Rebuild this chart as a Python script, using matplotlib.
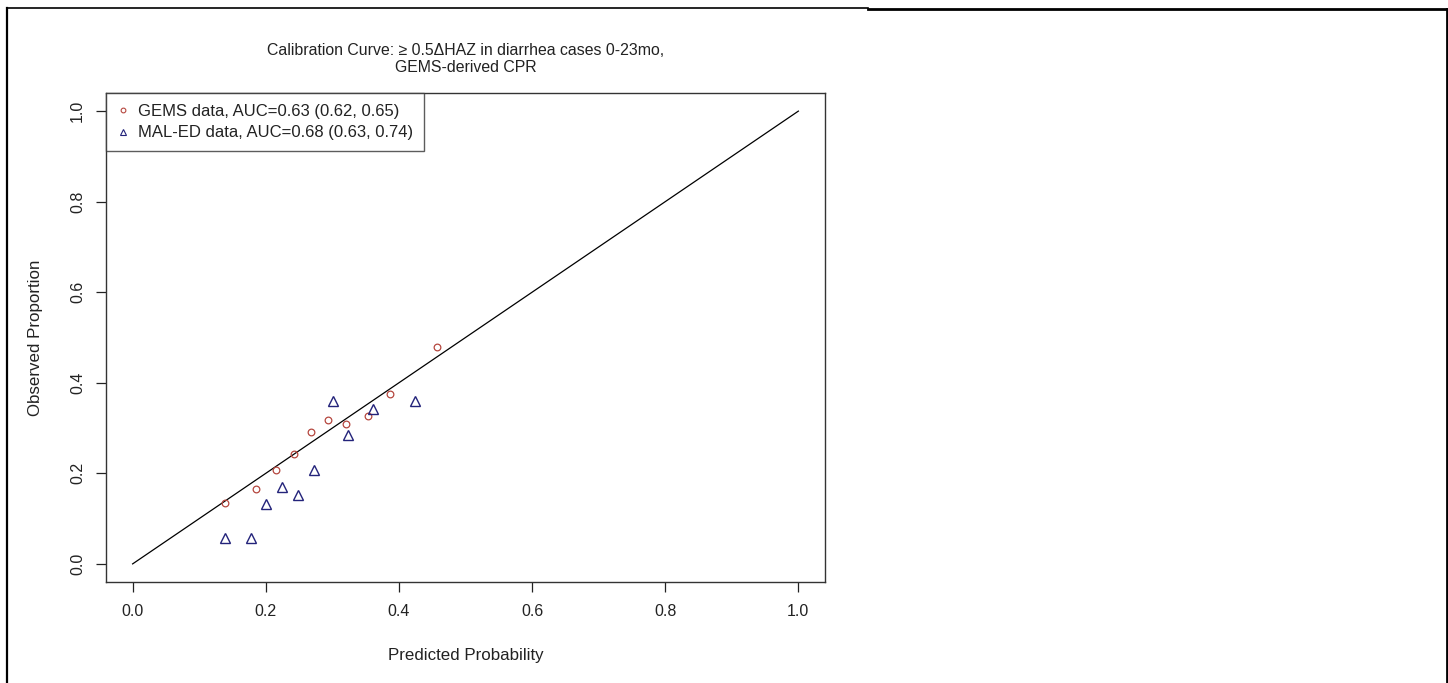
import numpy as np
import matplotlib
matplotlib.use("Agg")
import matplotlib.pyplot as plt
from matplotlib.lines import Line2D

# GEMS calibration points (predicted, observed)
gems_pred = [0.139, 0.186, 0.216, 0.242, 0.268, 0.294, 0.321, 0.353, 0.387, 0.457]
gems_obs = [0.134, 0.165, 0.208, 0.242, 0.292, 0.317, 0.308, 0.326, 0.376, 0.478]

# MAL-ED calibration points (predicted, observed)
maled_pred = [0.138, 0.178, 0.200, 0.224, 0.248, 0.272, 0.301, 0.324, 0.361, 0.424]
maled_obs = [0.058, 0.058, 0.132, 0.169, 0.153, 0.208, 0.360, 0.285, 0.341, 0.360]

ticks = [0.0, 0.2, 0.4, 0.6, 0.8, 1.0]
tick_labels = ["0.0", "0.2", "0.4", "0.6", "0.8", "1.0"]

gems_label = "GEMS data, AUC=0.63 (0.62, 0.65)"
maled_label = "MAL-ED data, AUC=0.68 (0.63, 0.74)"

plt.rcParams["font.family"] = ["Liberation Sans", "DejaVu Sans"]

W, H = 1448, 683
fig = plt.figure(figsize=(W / 100, H / 100), dpi=100)


def fx(px):
    return px / W


def fy(py):
    return 1 - py / H


# plot region in pixel terms
left, right, top, bottom = 106, 825, 93, 582
ax = fig.add_axes([fx(left), fy(bottom), fx(right) - fx(left), fy(top) - fy(bottom)])

ax.plot([0, 1], [0, 1], color="black", lw=0.9)
ax.plot(gems_pred, gems_obs, linestyle="none", marker="o", markersize=4.8,
        markerfacecolor="none", markeredgecolor="#b5473f", markeredgewidth=0.9)
ax.plot(maled_pred, maled_obs, linestyle="none", marker="^", markersize=6.8,
        markerfacecolor="none", markeredgecolor="#23237a", markeredgewidth=1.0)

ax.set_xlim(-0.04, 1.04)
ax.set_ylim(-0.04, 1.04)
ax.set_xticks(ticks)
ax.set_xticklabels(tick_labels)
ax.set_yticks(ticks)
ax.set_yticklabels(tick_labels, rotation=90, va="center")
ax.tick_params(direction="out", length=7.5, width=0.9, labelsize=11.5,
               colors="#222222")
ax.tick_params(axis="x", pad=8.5)
ax.tick_params(axis="y", pad=7.5)
for s in ax.spines.values():
    s.set_linewidth(1.0)
    s.set_color("#333333")

ax.set_xlabel("Predicted Probability", fontsize=12.2, color="#222222")
ax.xaxis.set_label_coords(0.5, (bottom - 648) / (bottom - top))
ax.set_ylabel("Observed Proportion", fontsize=12.2, color="#222222")
ax.yaxis.set_label_coords((43 - left) / (right - left), 0.5)

ax.set_title("Calibration Curve: \u2265 0.5\u0394HAZ in diarrhea cases 0-23mo,\nGEMS-derived CPR",
             fontsize=11.4, color="#222222", linespacing=1.15, pad=15)

# legend
handles = [
    Line2D([], [], linestyle="none", marker="o", markersize=3.4,
           markerfacecolor="none", markeredgecolor="#b5473f", markeredgewidth=0.8),
    Line2D([], [], linestyle="none", marker="^", markersize=4.6,
           markerfacecolor="none", markeredgecolor="#23237a", markeredgewidth=0.8),
]
leg = ax.legend(handles, [gems_label, maled_label], loc="upper left",
                bbox_to_anchor=(0, 1), borderaxespad=0, fontsize=12,
                frameon=True, fancybox=False, handlelength=0.7,
                handletextpad=0.6, borderpad=0.65, labelspacing=0.4)
leg.get_frame().set_edgecolor("#333333")
leg.get_frame().set_linewidth(1.0)
for t in leg.get_texts():
    t.set_color("#222222")

# outer border of the image
fig.add_artist(Line2D([fx(7), fx(7)], [fy(8), fy(H + 2)], color="black", lw=1.6,
                      transform=fig.transFigure))
fig.add_artist(Line2D([fx(7), fx(868)], [fy(8), fy(8)], color="black", lw=1.2,
                      transform=fig.transFigure))
fig.add_artist(Line2D([fx(868), fx(1447)], [fy(9), fy(9)], color="black", lw=2.0,
                      transform=fig.transFigure))
fig.add_artist(Line2D([fx(1446.5), fx(1446.5)], [fy(9), fy(H + 2)], color="black",
                      lw=2.0, transform=fig.transFigure))

fig.savefig("out.png", dpi=100)
